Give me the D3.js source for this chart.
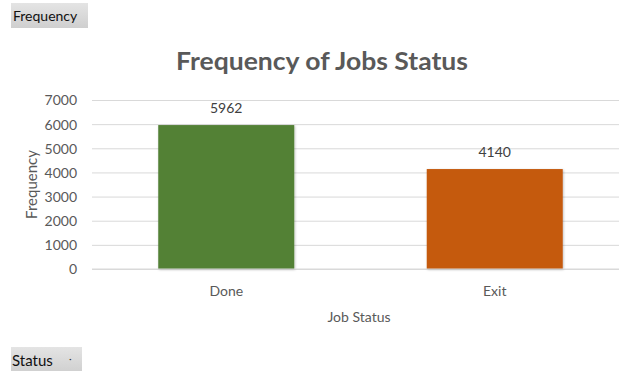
<!DOCTYPE html>
<html>
<head>
<meta charset="utf-8">
<script src="https://cdn.jsdelivr.net/npm/d3@7"></script>
<style>
  html, body { margin: 0; padding: 0; background: #fff; }
  svg { display: block; font-family: Lato, "Open Sans", sans-serif; }
</style>
</head>
<body>
<svg id="chart" width="619" height="371"></svg>
<script>
// Job status counts
const categories = ["Done", "Exit"];
const frequencies = [5962, 4140];
const barColors = ["#538135", "#c55a11"];
const yTicks = [0, 1000, 2000, 3000, 4000, 5000, 6000, 7000];

const svg = d3.select("#chart");
const W = 619, H = 371;

// Plot area (the category band runs past the right edge and is clipped)
const plot = { left: 92, right: 629, top: 100, bottom: 269 };

const x = d3.scaleBand()
  .domain(categories)
  .range([plot.left, plot.right])
  .paddingInner(0.4935)
  .paddingOuter(0.4935 / 2);

const y = d3.scaleLinear()
  .domain([0, 7000])
  .range([plot.bottom, plot.top]);

const textGrey = "#595959";

// Drop-shadow for the bars
const defs = svg.append("defs");
const shadow = defs.append("filter").attr("id", "barShadow")
  .attr("x", "-10%").attr("y", "-10%").attr("width", "120%").attr("height", "120%");
shadow.append("feDropShadow")
  .attr("dx", 0.8).attr("dy", 0.8).attr("stdDeviation", 1)
  .attr("flood-color", "#000").attr("flood-opacity", 0.25);

const btnGrad = defs.append("linearGradient").attr("id", "btnGrad")
  .attr("x1", 0).attr("y1", 0).attr("x2", 0).attr("y2", 1);
btnGrad.append("stop").attr("offset", "0%").attr("stop-color", "#e4e4e4");
btnGrad.append("stop").attr("offset", "100%").attr("stop-color", "#cfcfcf");

// Gridlines + y tick labels via axis
const yAxis = d3.axisLeft(y)
  .tickValues(yTicks)
  .tickSize(-(W - plot.left))
  .tickPadding(15)
  .tickFormat(d3.format("d"));

const gy = svg.append("g")
  .attr("transform", `translate(${plot.left},0)`)
  .call(yAxis);
gy.select(".domain").remove();
gy.selectAll(".tick line").attr("stroke", "#d9d9d9").attr("stroke-width", 1);
gy.selectAll(".tick text")
  .attr("fill", textGrey)
  .attr("font-size", 14)
  .attr("font-family", "Lato, sans-serif")
  .attr("dy", "0.35em");

// Bars
svg.append("g").selectAll("rect")
  .data(categories)
  .join("rect")
  .attr("x", d => x(d))
  .attr("y", (d, i) => y(frequencies[i]))
  .attr("width", x.bandwidth())
  .attr("height", (d, i) => y(0) - y(frequencies[i]))
  .attr("fill", (d, i) => barColors[i])
  .attr("filter", "url(#barShadow)");

// Value labels
svg.append("g").selectAll("text")
  .data(categories)
  .join("text")
  .attr("x", d => x(d) + x.bandwidth() / 2)
  .attr("y", (d, i) => y(frequencies[i]) - 12)
  .attr("text-anchor", "middle")
  .attr("fill", "#404040")
  .attr("font-size", 14)
  .text((d, i) => frequencies[i]);

// X axis category labels
const xAxis = d3.axisBottom(x).tickSize(0).tickPadding(17);
const gx = svg.append("g")
  .attr("transform", `translate(0,${plot.bottom})`)
  .call(xAxis);
gx.select(".domain")
  .attr("d", `M${plot.left},0H${W}`)
  .attr("stroke", "#d9d9d9");
gx.selectAll(".tick text")
  .attr("fill", textGrey)
  .attr("font-size", 14)
  .attr("font-family", "Lato, sans-serif");

// Axis titles
svg.append("text")
  .attr("x", 359)
  .attr("y", 322)
  .attr("text-anchor", "middle")
  .attr("fill", textGrey)
  .attr("font-size", 14)
  .text("Job Status");

svg.append("text")
  .attr("transform", `translate(37,${(plot.top + plot.bottom) / 2}) rotate(-90)`)
  .attr("text-anchor", "middle")
  .attr("fill", textGrey)
  .attr("font-size", 15)
  .text("Frequency");

// Chart title
svg.append("text")
  .attr("x", 322)
  .attr("y", 70)
  .attr("text-anchor", "middle")
  .attr("fill", textGrey)
  .attr("font-size", 24)
  .attr("font-weight", "bold")
  .attr("textLength", 292)
  .attr("lengthAdjust", "spacingAndGlyphs")
  .text("Frequency of Jobs Status");

// Pivot field buttons
const fieldBtn = svg.append("g");
fieldBtn.append("rect")
  .attr("x", 11).attr("y", 3).attr("width", 77).attr("height", 25)
  .attr("fill", "url(#btnGrad)");
fieldBtn.append("text")
  .attr("x", 13).attr("y", 21)
  .attr("fill", "#111").attr("font-size", 14)
  .text("Frequency");

const statusBtn = svg.append("g");
statusBtn.append("rect")
  .attr("x", 11).attr("y", 347).attr("width", 71).attr("height", 26)
  .attr("fill", "url(#btnGrad)");
statusBtn.append("text")
  .attr("x", 12).attr("y", 366)
  .attr("fill", "#111").attr("font-size", 15)
  .text("Status");
statusBtn.append("text")
  .attr("x", 69).attr("y", 362)
  .attr("fill", "#333").attr("font-size", 10)
  .text("·");
</script>
</body>
</html>
